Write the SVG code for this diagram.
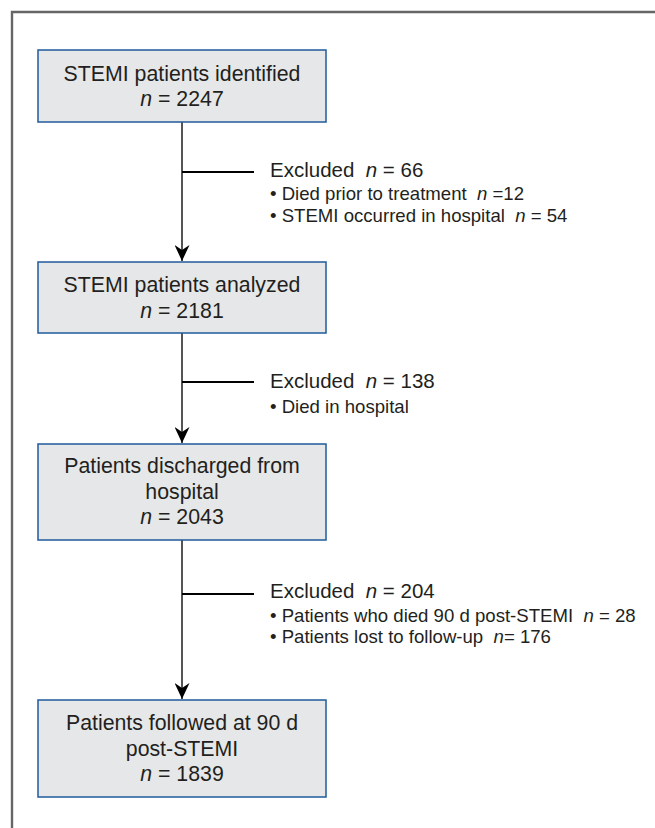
<svg xmlns="http://www.w3.org/2000/svg" width="655" height="828" viewBox="0 0 655 828">
<style>
text{font-family:"Liberation Sans",Arial,Helvetica,sans-serif;fill:#231f20}
.bt{font-size:21.3px;text-anchor:middle}
.eh{font-size:20.5px}
.eb{font-size:18.6px}
.box{fill:#e6e7e8;stroke:#1f5a9c;stroke-width:1.5}
.v{stroke:#555;stroke-width:2;fill:none}
.h{stroke:#000;stroke-width:2;fill:none}
</style>
<defs>
<marker id="arr" markerWidth="16" markerHeight="15" refX="16" refY="7.5" orient="auto" markerUnits="userSpaceOnUse" viewBox="0 0 16 15">
<path d="M0,0 L5,7.5 L0,15 L16,7.5 Z" fill="#000"/>
</marker>
</defs>
<rect width="655" height="828" fill="#fff"/>
<path d="M655,12 H12 V828" fill="none" stroke="#666" stroke-width="2.4"/>
<g id="connectors">
<line class="v" x1="182" y1="122" x2="182" y2="261" marker-end="url(#arr)"/>
<line class="h" x1="182" y1="172" x2="254" y2="172"/>
<line class="v" x1="182" y1="333" x2="182" y2="443" marker-end="url(#arr)"/>
<line class="h" x1="182" y1="382" x2="254" y2="382"/>
<line class="v" x1="182" y1="540" x2="182" y2="699" marker-end="url(#arr)"/>
<line class="h" x1="182" y1="594" x2="254" y2="594"/>
</g>
<g id="n1">
<rect class="box" x="38" y="50" width="288" height="72"/>
<text class="bt" x="182" y="81">STEMI patients identified</text>
<text class="bt" x="182" y="106"><tspan font-style="italic">n</tspan> = 2247</text>
</g>
<g id="e1">
<text class="eh" x="270" y="177" xml:space="preserve">Excluded  <tspan font-style="italic">n</tspan> = 66</text>
<text class="eb" x="270" y="200" xml:space="preserve">• Died prior to treatment  <tspan font-style="italic">n</tspan> =12</text>
<text class="eb" x="270" y="221.5" xml:space="preserve">• STEMI occurred in hospital  <tspan font-style="italic">n</tspan> = 54</text>
</g>
<g id="n2">
<rect class="box" x="38" y="262" width="288" height="71"/>
<text class="bt" x="182" y="292">STEMI patients analyzed</text>
<text class="bt" x="182" y="318"><tspan font-style="italic">n</tspan> = 2181</text>
</g>
<g id="e2">
<text class="eh" x="270" y="388" xml:space="preserve">Excluded  <tspan font-style="italic">n</tspan> = 138</text>
<text class="eb" x="270" y="413">• Died in hospital</text>
</g>
<g id="n3">
<rect class="box" x="38" y="444" width="288" height="96"/>
<text class="bt" x="182" y="473">Patients discharged from</text>
<text class="bt" x="182" y="499">hospital</text>
<text class="bt" x="182" y="524"><tspan font-style="italic">n</tspan> = 2043</text>
</g>
<g id="e3">
<text class="eh" x="270" y="598" xml:space="preserve">Excluded  <tspan font-style="italic">n</tspan> = 204</text>
<text class="eb" x="270" y="621.5" xml:space="preserve">• Patients who died 90 d post-STEMI  <tspan font-style="italic">n</tspan> = 28</text>
<text class="eb" x="270" y="643" xml:space="preserve">• Patients lost to follow-up  <tspan font-style="italic">n</tspan>= 176</text>
</g>
<g id="n4">
<rect class="box" x="38" y="700" width="288" height="97"/>
<text class="bt" x="182" y="730">Patients followed at 90 d</text>
<text class="bt" x="182" y="756">post-STEMI</text>
<text class="bt" x="182" y="781"><tspan font-style="italic">n</tspan> = 1839</text>
</g>
</svg>
